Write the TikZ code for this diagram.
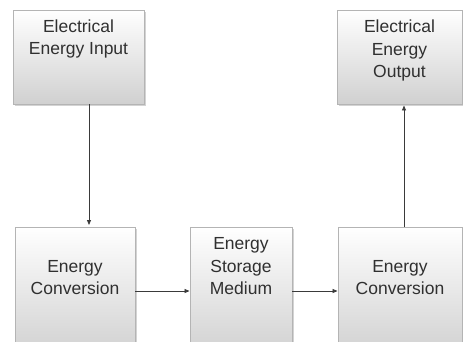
\documentclass[tikz,border=0pt]{standalone}
\usepackage{fontspec}
\setmainfont{Liberation Sans}
\usepackage{tikz}
\usetikzlibrary{arrows.meta,shadows}
\definecolor{txtgray}{HTML}{303030}
\definecolor{linegray}{HTML}{3A3A3A}
\definecolor{edgegray}{HTML}{B4B4B4}
\definecolor{boxbottom}{HTML}{D0D0D0}

\begin{document}
\begin{tikzpicture}[x=1pt,y=-1pt,
  box/.style={rectangle,draw=edgegray,line width=0.9pt,top color=white,bottom color=boxbottom,
    drop shadow={shadow xshift=1.5pt,shadow yshift=-1.5pt,opacity=0.35,fill=gray},
    inner sep=0pt},
  lbl/.style={align=center,text=txtgray,font=\fontsize{17.5}{22.5}\selectfont,inner sep=0pt,anchor=base},
  flow/.style={draw=linegray,line width=0.8pt,-{Triangle[length=5pt,width=4pt]}}]
\useasboundingbox (0,0) rectangle (463,341);
\clip (0,0) rectangle (463,341);
\node[box,minimum width=131pt,minimum height=94pt] (einput) at (78.5,57) {};
\node[box,minimum width=125pt,minimum height=94pt] (eoutput) at (399.5,57) {};
\node[box,minimum width=120pt,minimum height=130pt] (conva) at (75,292) {};
\node[box,minimum width=102pt,minimum height=130pt] (store) at (241,292) {};
\node[box,minimum width=124pt,minimum height=130pt] (convb) at (400,292) {};
% base anchor sits on the last line
\node[lbl] (einputtxt) at ([yshift=-45pt]einput.north) {Electrical\\Energy Input};
\node[lbl] (eoutputtxt) at ([yshift=-68pt]eoutput.north) {Electrical\\Energy\\Output};
\node[lbl] (convatxt) at ([yshift=-68pt]conva.north) {Energy\\Conversion};
\node[lbl] (storetxt) at ([yshift=-68pt]store.north) {Energy\\Storage\\Medium};
\node[lbl] (convbtxt) at ([yshift=-68pt]convb.north) {Energy\\Conversion};
\draw[flow] ([xshift=10.5pt]einput.south) -- ([xshift=14pt,yshift=1.5pt]conva.north);
\draw[flow] ([yshift=1pt]conva.east) -- ([yshift=1pt]store.west);
\draw[flow] ([yshift=1pt]store.east) -- ([yshift=1pt]convb.west);
\draw[flow] ([xshift=4pt]convb.north) -- ([xshift=4.5pt,yshift=-1pt]eoutput.south);
\end{tikzpicture}
\end{document}
